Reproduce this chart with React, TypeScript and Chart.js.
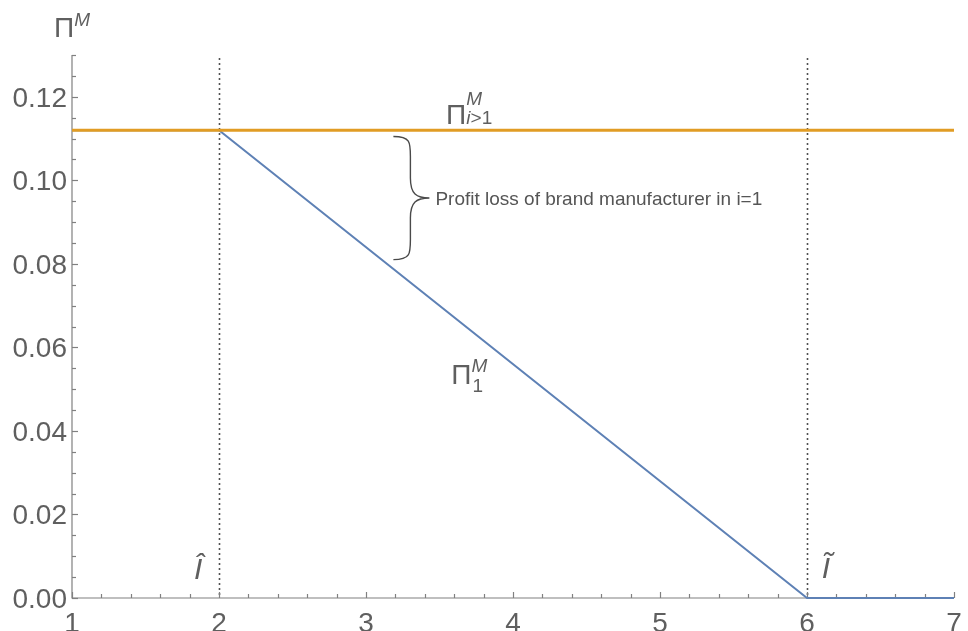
import React, { useEffect, useRef } from "react";
import { Chart, registerables } from "chart.js";

Chart.register(...registerables);

// ---- data ----
const lossX: number[] = [1, 2, 6, 7];
const lossY: number[] = [0.112, 0.112, 0, 0];
const flatX: number[] = [1, 7];
const flatY: number[] = [0.112, 0.112];
const xTicks: number[] = [1, 2, 3, 4, 5, 6, 7];
const yTicks: number[] = [0, 0.02, 0.04, 0.06, 0.08, 0.1, 0.12];
const yTickLabels: string[] = ["0.00", "0.02", "0.04", "0.06", "0.08", "0.10", "0.12"];
const markerX: number[] = [2, 6];
const markerLabels: string[] = ["\u00CE", "\u0128"];
const braceLabel = "Profit loss of brand manufacturer in i=1";

const FONT = "'Liberation Sans', Arial, Helvetica, sans-serif";
const TEXT = "#5f5f5f";
const AXIS = "#808080";

function drawPi(ctx: CanvasRenderingContext2D, x: number, y: number, sup: string, sub: string, supDy: number, subDy: number) {
  ctx.save();
  ctx.fillStyle = TEXT;
  ctx.textAlign = "left";
  ctx.textBaseline = "alphabetic";
  ctx.font = `28px ${FONT}`;
  ctx.fillText("\u03A0", x, y);
  const w = ctx.measureText("\u03A0").width;
  ctx.font = `italic 19px ${FONT}`;
  ctx.fillText(sup, x + w, y + supDy);
  if (sub) {
    if (sub === "i>1") {
      ctx.font = `italic 19px ${FONT}`;
      ctx.fillText("i", x + w, y + subDy);
      const wi = ctx.measureText("i").width;
      ctx.font = `19px ${FONT}`;
      ctx.fillText(">1", x + w + wi, y + subDy);
    } else {
      ctx.font = `19px ${FONT}`;
      ctx.fillText(sub, x + w + 1, y + subDy);
    }
  }
  ctx.restore();
}

const decorPlugin = {
  id: "decor",
  beforeDatasetsDraw(chart: any) {
    const { ctx, chartArea, scales } = chart;
    const xs = scales.x;
    const ys = scales.y;
    ctx.save();
    // dotted markers
    ctx.strokeStyle = "#505050";
    ctx.lineWidth = 1.6;
    ctx.setLineDash([2, 3]);
    markerX.forEach((v) => {
      const px = Math.round(xs.getPixelForValue(v)) + 0.5;
      ctx.beginPath();
      ctx.moveTo(px, chartArea.top + 3);
      ctx.lineTo(px, chartArea.bottom);
      ctx.stroke();
    });
    ctx.setLineDash([]);
    // axes
    ctx.strokeStyle = AXIS;
    ctx.lineWidth = 1.2;
    ctx.beginPath();
    ctx.moveTo(chartArea.left, chartArea.top);
    ctx.lineTo(chartArea.left, chartArea.bottom);
    ctx.lineTo(chartArea.right, chartArea.bottom);
    ctx.stroke();
    // x ticks (major + minor)
    for (let i = 0; i <= 30; i++) {
      const v = 1 + i * 0.2;
      const px = Math.round(xs.getPixelForValue(v)) + 0.5;
      const len = i % 5 === 0 ? 6 : 4;
      ctx.beginPath();
      ctx.moveTo(px, chartArea.bottom);
      ctx.lineTo(px, chartArea.bottom - len);
      ctx.stroke();
    }
    // y ticks (major + minor)
    for (let i = 0; i <= 26; i++) {
      const v = i * 0.005;
      const py = Math.round(ys.getPixelForValue(v)) + 0.5;
      const len = i % 4 === 0 ? 6 : 4;
      ctx.beginPath();
      ctx.moveTo(chartArea.left, py);
      ctx.lineTo(chartArea.left + len, py);
      ctx.stroke();
    }
    // tick labels
    ctx.fillStyle = TEXT;
    ctx.font = `28px ${FONT}`;
    ctx.textAlign = "right";
    ctx.textBaseline = "alphabetic";
    yTicks.forEach((v, i) => {
      ctx.fillText(yTickLabels[i], chartArea.left - 5, ys.getPixelForValue(v) + 10);
    });
    ctx.textAlign = "center";
    xTicks.forEach((v) => {
      ctx.fillText(String(v), xs.getPixelForValue(v), chartArea.bottom + 34);
    });
    ctx.restore();
  },
  afterDatasetsDraw(chart: any) {
    const { ctx, chartArea, scales } = chart;
    const xs = scales.x;
    const ys = scales.y;
    ctx.save();
    // axis title
    drawPi(ctx, chartArea.left - 18, chartArea.top - 18, "M", "", -11, 0);
    // series labels
    drawPi(ctx, xs.getPixelForValue(3.545), ys.getPixelForValue(0.1134), "M", "i>1", -19, 0);
    drawPi(ctx, xs.getPixelForValue(3.58), ys.getPixelForValue(0.0512), "M", "1", -12, 8);
    // marker labels
    ctx.fillStyle = TEXT;
    ctx.font = `italic 30px ${FONT}`;
    ctx.textAlign = "left";
    ctx.fillText(markerLabels[0], xs.getPixelForValue(1.83), ys.getPixelForValue(0.0045));
    ctx.fillText(markerLabels[1], xs.getPixelForValue(6.1), ys.getPixelForValue(0.0048));
    // brace
    const bx = xs.getPixelForValue(3.2) - 2;
    const yTop = ys.getPixelForValue(0.1105);
    const yBot = ys.getPixelForValue(0.081);
    const yMid = (yTop + yBot) / 2;
    const sx = bx + 17;
    const tx = bx + 36;
    ctx.strokeStyle = "#4a4a4a";
    ctx.lineWidth = 1.4;
    ctx.beginPath();
    ctx.moveTo(bx, yTop);
    ctx.bezierCurveTo(sx, yTop, sx, yTop + 6, sx, yTop + 20);
    ctx.lineTo(sx, yMid - 20);
    ctx.bezierCurveTo(sx, yMid - 4, sx + 6, yMid, tx, yMid);
    ctx.bezierCurveTo(sx + 6, yMid, sx, yMid + 4, sx, yMid + 20);
    ctx.lineTo(sx, yBot - 20);
    ctx.bezierCurveTo(sx, yBot - 6, sx, yBot, bx, yBot);
    ctx.stroke();
    ctx.fillStyle = "#555";
    ctx.font = `19px ${FONT}`;
    ctx.fillText(braceLabel, tx + 6, yMid + 7);
    ctx.restore();
  },
};

export default function App() {
  const ref = useRef<HTMLCanvasElement | null>(null);
  useEffect(() => {
    if (!ref.current) return;
    const chart = new Chart(ref.current, {
      type: "scatter",
      data: {
        datasets: [
          {
            data: flatX.map((x, i) => ({ x, y: flatY[i] })),
            showLine: true,
            borderColor: "#E19C24",
            borderWidth: 3,
            pointRadius: 0,
            clip: false as any,
          },
          {
            data: lossX.map((x, i) => ({ x, y: lossY[i] })),
            showLine: true,
            borderColor: "#5E81B5",
            borderWidth: 2,
            pointRadius: 0,
            clip: false as any,
          },
        ],
      },
      options: {
        animation: false,
        responsive: true,
        maintainAspectRatio: false,
        layout: { padding: { left: 72, right: 14, top: 55, bottom: 33 } },
        plugins: { legend: { display: false }, tooltip: { enabled: false } },
        scales: {
          x: { type: "linear", min: 1, max: 7, display: false },
          y: { type: "linear", min: 0, max: 0.13, display: false },
        },
      },
      plugins: [decorPlugin],
    });
    return () => chart.destroy();
  }, []);
  return (
    <div style={{ position: "fixed", left: 0, top: 0, width: 968, height: 631, background: "#fff" }}>
      <canvas ref={ref} />
    </div>
  );
}
